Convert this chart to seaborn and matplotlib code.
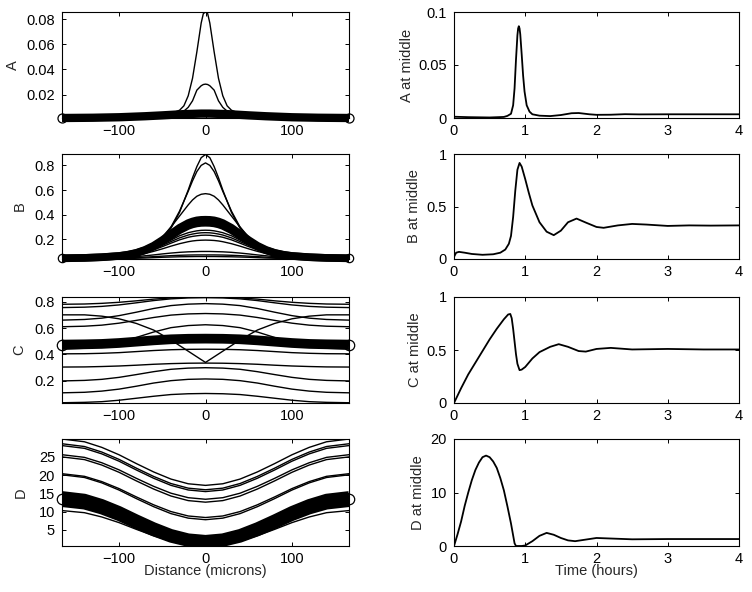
import numpy as np
import matplotlib
matplotlib.use("Agg")
import matplotlib.pyplot as plt
import seaborn as sns

# ---- left column: profiles along x (half profile, mirrored about x = 0) ----
x_a = [0, 2.5, 5, 10, 15, 20, 25, 30, 40, 50, 70, 100, 130, 166]
a_profiles = [
    [0.0858, 0.0845, 0.077, 0.054, 0.033, 0.019, 0.011, 0.0075, 0.0048, 0.0038, 0.0028, 0.0020, 0.0016, 0.0014],
    [0.0283, 0.0280, 0.027, 0.0235, 0.015, 0.0098, 0.0068, 0.0055, 0.0045, 0.0038, 0.0028, 0.0020, 0.0016, 0.0014],
]
a_band = [
    [0.0048, 0.0048, 0.0048, 0.0047, 0.0046, 0.0045, 0.0044, 0.0042, 0.0038, 0.0034, 0.0027, 0.0019, 0.0015, 0.0013],
]

x_b = [0, 5, 10, 15, 20, 30, 40, 50, 60, 70, 80, 90, 100, 120, 140, 166]
b_profiles = [
    [0.888, 0.862, 0.79, 0.70, 0.60, 0.42, 0.29, 0.205, 0.15, 0.115, 0.09, 0.075, 0.065, 0.055, 0.05, 0.048],
    [0.82, 0.80, 0.75, 0.675, 0.59, 0.43, 0.30, 0.21, 0.155, 0.118, 0.092, 0.077, 0.066, 0.056, 0.05, 0.048],
    [0.571, 0.566, 0.55, 0.52, 0.48, 0.39, 0.30, 0.22, 0.16, 0.12, 0.095, 0.078, 0.067, 0.056, 0.05, 0.048],
    [0.275, 0.274, 0.27, 0.263, 0.255, 0.23, 0.195, 0.16, 0.128, 0.102, 0.082, 0.07, 0.062, 0.053, 0.049, 0.047],
    [0.255, 0.254, 0.25, 0.244, 0.236, 0.213, 0.183, 0.152, 0.123, 0.099, 0.08, 0.068, 0.06, 0.052, 0.048, 0.046],
    [0.235, 0.234, 0.23, 0.225, 0.218, 0.197, 0.17, 0.142, 0.116, 0.095, 0.078, 0.066, 0.059, 0.051, 0.048, 0.046],
    [0.195, 0.194, 0.192, 0.188, 0.182, 0.166, 0.146, 0.124, 0.104, 0.086, 0.072, 0.062, 0.056, 0.05, 0.047, 0.045],
    [0.103, 0.103, 0.102, 0.101, 0.1, 0.096, 0.09, 0.083, 0.075, 0.068, 0.061, 0.056, 0.052, 0.048, 0.046, 0.045],
    [0.075, 0.075, 0.075, 0.0745, 0.074, 0.072, 0.069, 0.065, 0.061, 0.057, 0.053, 0.05, 0.048, 0.046, 0.045, 0.044],
    [0.062, 0.062, 0.062, 0.0615, 0.061, 0.06, 0.058, 0.056, 0.053, 0.05, 0.048, 0.046, 0.045, 0.043, 0.042, 0.042],
]
b_band = [
    [0.36, 0.359, 0.355, 0.346, 0.333, 0.295, 0.245, 0.195, 0.15, 0.116, 0.092, 0.077, 0.067, 0.057, 0.051, 0.049],
    [0.335, 0.334, 0.33, 0.322, 0.31, 0.275, 0.23, 0.185, 0.143, 0.112, 0.09, 0.075, 0.066, 0.056, 0.051, 0.047],
]

x_c = [0, 20, 40, 60, 80, 100, 120, 140, 166]
c_profiles = [
    [0.105, 0.103, 0.097, 0.084, 0.069, 0.054, 0.043, 0.038, 0.035],
    [0.215, 0.212, 0.202, 0.184, 0.160, 0.138, 0.123, 0.114, 0.11],
    [0.30, 0.297, 0.288, 0.27, 0.248, 0.227, 0.212, 0.204, 0.20],
    [0.335, 0.334, 0.331, 0.326, 0.319, 0.313, 0.309, 0.306, 0.305],
    [0.44, 0.439, 0.436, 0.430, 0.422, 0.414, 0.409, 0.406, 0.405],
    [0.625, 0.619, 0.603, 0.570, 0.529, 0.490, 0.462, 0.447, 0.44],
    [0.71, 0.707, 0.698, 0.68, 0.658, 0.637, 0.622, 0.614, 0.61],
    [0.785, 0.781, 0.77, 0.748, 0.72, 0.694, 0.675, 0.665, 0.66],
    [0.83, 0.828, 0.821, 0.808, 0.791, 0.775, 0.764, 0.758, 0.755],
    [0.835, 0.833, 0.828, 0.819, 0.806, 0.795, 0.787, 0.782, 0.78],
    [0.34, 0.425, 0.51, 0.585, 0.635, 0.67, 0.69, 0.70, 0.70],
]
c_band = [
    [0.52, 0.519, 0.515, 0.507, 0.497, 0.487, 0.48, 0.477, 0.475],
]

x_d = [0, 20, 40, 60, 80, 100, 120, 140, 166]
d_profiles = [
    [17.2, 17.64, 18.93, 20.88, 23.17, 25.58, 27.61, 29.14, 29.9],
    [16.0, 16.44, 17.71, 19.65, 21.92, 24.32, 26.33, 27.84, 28.6],
    [15.5, 15.94, 17.21, 19.15, 21.42, 23.82, 25.83, 27.34, 28.1],
    [13.4, 13.83, 15.06, 16.94, 19.13, 21.45, 23.4, 24.87, 25.6],
    [12.6, 13.03, 14.29, 16.2, 18.43, 20.78, 22.77, 24.26, 25.0],
    [8.4, 8.82, 10.03, 11.88, 14.04, 16.32, 18.24, 19.68, 20.4],
    [7.8, 8.23, 9.47, 11.37, 13.58, 15.92, 17.89, 19.36, 20.1],
    [0.6, 0.94, 1.92, 3.41, 5.16, 7.0, 8.55, 9.72, 10.3],
]
d_band = [
    [2.3, 2.72, 3.93, 5.78, 7.94, 10.22, 12.14, 13.58, 14.3],
    [1.3, 1.7, 2.84, 4.58, 6.61, 8.76, 10.57, 11.92, 12.6],
    [1.8, 2.21, 3.38, 5.16, 7.25, 9.46, 11.31, 12.7, 13.4],
]

# ---- right column: value at the middle vs time ----
t_a = [0, 0.2, 0.5, 0.7, 0.75, 0.8, 0.83, 0.85, 0.87, 0.89, 0.9, 0.91, 0.92, 0.93, 0.95, 0.97,
       0.99, 1.02, 1.06, 1.1, 1.2, 1.35, 1.5, 1.65, 1.75, 1.9, 2.0, 2.2, 2.4, 2.6, 3.0, 3.5, 4.0]
a_mid = [0.0012, 0.0008, 0.0005, 0.001, 0.002, 0.004, 0.012, 0.028, 0.055, 0.078, 0.0845, 0.0866,
         0.0845, 0.079, 0.06, 0.04, 0.025, 0.012, 0.006, 0.0035, 0.0022, 0.0018, 0.0028, 0.0045,
         0.0047, 0.0035, 0.003, 0.0031, 0.0036, 0.0034, 0.0035, 0.0035, 0.0035]

t_b = [0, 0.03, 0.07, 0.15, 0.25, 0.4, 0.55, 0.65, 0.72, 0.77, 0.8, 0.83, 0.86, 0.89, 0.92,
       0.95, 1.0, 1.05, 1.1, 1.2, 1.3, 1.4, 1.5, 1.6, 1.72, 1.85, 2.0, 2.1, 2.3, 2.5, 2.7, 3.0,
       3.3, 3.6, 4.0]
b_mid = [0.02, 0.06, 0.068, 0.06, 0.048, 0.04, 0.045, 0.06, 0.09, 0.145, 0.22, 0.4, 0.65, 0.85,
         0.915, 0.88, 0.76, 0.63, 0.51, 0.35, 0.26, 0.227, 0.27, 0.35, 0.385, 0.347, 0.305, 0.297,
         0.32, 0.334, 0.328, 0.315, 0.32, 0.318, 0.32]

t_c = [0, 0.1, 0.2, 0.3, 0.4, 0.5, 0.6, 0.7, 0.76, 0.79, 0.81, 0.83, 0.85, 0.87, 0.89, 0.92,
       0.95, 1.0, 1.1, 1.2, 1.35, 1.47, 1.6, 1.75, 1.85, 2.0, 2.2, 2.5, 3.0, 3.5, 4.0]
c_mid = [0, 0.14, 0.27, 0.38, 0.49, 0.6, 0.7, 0.79, 0.835, 0.84, 0.8, 0.7, 0.58, 0.46, 0.37,
         0.31, 0.315, 0.34, 0.42, 0.48, 0.53, 0.555, 0.53, 0.49, 0.485, 0.51, 0.52, 0.505, 0.51,
         0.505, 0.505]

t_d = [0, 0.05, 0.1, 0.15, 0.2, 0.25, 0.3, 0.35, 0.4, 0.45, 0.5, 0.55, 0.6, 0.65, 0.7, 0.75,
       0.8, 0.85, 0.87, 0.95, 1.0, 1.1, 1.2, 1.3, 1.4, 1.5, 1.6, 1.7, 1.85, 2.0, 2.2, 2.5, 3.0,
       3.5, 4.0]
d_mid = [0, 2.2, 4.6, 7.5, 10.0, 12.3, 14.2, 15.6, 16.6, 16.9, 16.6, 15.8, 14.6, 12.7, 10.4,
         7.4, 4.2, 0.5, 0.0, 0.0, 0.1, 0.9, 1.9, 2.45, 2.1, 1.5, 1.05, 0.9, 1.2, 1.5, 1.4, 1.25,
         1.3, 1.3, 1.3]

left_names = ["A", "B", "C", "D"]
right_names = ["A at middle", "B at middle", "C at middle", "D at middle"]


def mirror(xh, vh):
    xh = np.asarray(xh, float)
    vh = np.asarray(vh, float)
    return np.concatenate([-xh[:0:-1], xh]), np.concatenate([vh[:0:-1], vh])


sns.set_style("ticks")
plt.rcParams.update({
    "font.family": ["Liberation Sans", "DejaVu Sans"],
    "font.size": 10.5,
    "axes.edgecolor": "black",
    "axes.linewidth": 0.8,
    "xtick.direction": "in",
    "ytick.direction": "in",
    "xtick.top": True,
    "ytick.right": True,
    "xtick.major.size": 3,
    "ytick.major.size": 3,
    "xtick.major.width": 0.7,
    "ytick.major.width": 0.7,
    "xtick.color": "black",
    "ytick.color": "black",
    "xtick.labelsize": 10.5,
    "ytick.labelsize": 10.5,
    "xtick.major.pad": 4,
    "ytick.major.pad": 5,
})

fig = plt.figure(figsize=(7.52, 5.92), dpi=100)

rows = [(12, 118), (154, 259), (297, 403), (439, 546)]
left_specs = [
    (x_a, a_profiles, a_band, (0.0013, 0.0858), [0.02, 0.04, 0.06, 0.08], ["0.02", "0.04", "0.06", "0.08"], 6.0, False),
    (x_b, b_profiles, b_band, (0.042, 0.892), [0.2, 0.4, 0.6, 0.8], ["0.2", "0.4", "0.6", "0.8"], 5.5, False),
    (x_c, c_profiles, c_band, (0.033, 0.835), [0.2, 0.4, 0.6, 0.8], ["0.2", "0.4", "0.6", "0.8"], 7.0, True),
    (x_d, d_profiles, d_band, (0.6, 29.9), [5, 10, 15, 20, 25], ["5", "10", "15", "20", "25"], 7.0, True),
]
right_specs = [
    (t_a, a_mid, (0, 0.1), [0, 0.05, 0.1], ["0", "0.05", "0.1"]),
    (t_b, b_mid, (0, 1), [0, 0.5, 1], ["0", "0.5", "1"]),
    (t_c, c_mid, (0, 1), [0, 0.5, 1], ["0", "0.5", "1"]),
    (t_d, d_mid, (0, 20), [0, 10, 20], ["0", "10", "20"]),
]
left_label_x = [-0.146, -0.122, -0.125, -0.118]
right_label_x = [-0.140, -0.116, -0.112, -0.102]

for i, (top, bottom) in enumerate(rows):
    b = 1 - bottom / 592
    h = (bottom - top) / 592

    # left: spatial profiles, the late-time ones drawn as a thick band
    ax = fig.add_axes([62 / 752, b, 287 / 752, h])
    xh, profiles, band, ylim, yt, ytl, band_lw, band_clip = left_specs[i]
    for vh in profiles:
        x, y = mirror(xh, vh)
        sns.lineplot(x=x, y=y, ax=ax, color="black", lw=1.0, sort=False, estimator=None)
    for vh in band:
        x, y = mirror(xh, vh)
        sns.lineplot(x=x, y=y, ax=ax, color="black", lw=band_lw, sort=False, estimator=None,
                     solid_capstyle="butt", clip_on=band_clip)
    # open circles at the ends of the final profile
    ax.plot([x[0], x[-1]], [y[0], y[-1]], "o", mfc="none", mec="black", ms=band_lw + 0.5,
            mew=0.9, clip_on=False)
    ax.set_xlim(-166, 166)
    ax.set_ylim(*ylim)
    ax.set_xticks([-100, 0, 100])
    ax.set_xticklabels(["\u2212100", "0", "100"])
    ax.set_yticks(yt)
    ax.set_yticklabels(ytl)
    ax.set_ylabel(left_names[i])
    ax.yaxis.set_label_coords(left_label_x[i], 0.5)
    ax.set_xlabel("Distance (microns)" if i == 3 else "")
    if i == 3:
        ax.xaxis.set_label_coords(0.5, -0.17)

    # right: value at the middle vs time
    ax2 = fig.add_axes([454 / 752, b, 285 / 752, h])
    tt, vv, ylim2, yt2, ytl2 = right_specs[i]
    sns.lineplot(x=tt, y=vv, ax=ax2, color="black", lw=1.3, sort=False, estimator=None)
    ax2.set_xlim(0, 4)
    ax2.set_ylim(*ylim2)
    ax2.set_xticks([0, 1, 2, 3, 4])
    ax2.set_yticks(yt2)
    ax2.set_yticklabels(ytl2)
    ax2.set_ylabel(right_names[i])
    ax2.yaxis.set_label_coords(right_label_x[i], 0.5)
    ax2.set_xlabel("Time (hours)" if i == 3 else "")
    if i == 3:
        ax2.xaxis.set_label_coords(0.5, -0.17)

fig.savefig("out.png", dpi=100, facecolor="white")
